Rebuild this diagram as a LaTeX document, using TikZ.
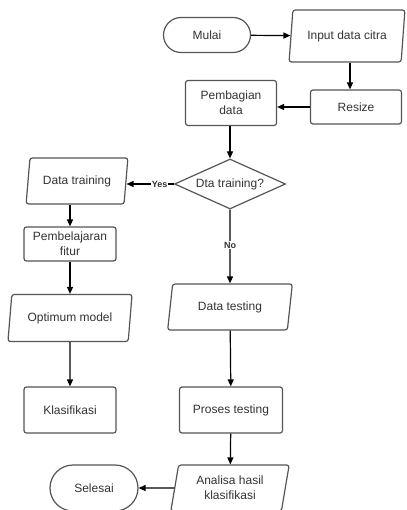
\documentclass[tikz,border=0pt]{standalone}
\usepackage{fontspec}
\setmainfont{Liberation Sans}
\usetikzlibrary{arrows.meta,shapes.geometric,shapes.misc}
\definecolor{ink}{HTML}{333333}
\definecolor{stroke}{HTML}{555555}
\tikzset{flow/.style={-{Triangle[length=7pt,width=6pt]},stroke,line width=1.2pt},
shp/.style={draw=stroke,line width=1.2pt,text=ink,align=center,inner sep=2pt,
 font=\fontsize{12}{15}\selectfont},
term/.style={shp,rounded rectangle,minimum height=35pt},
io/.style={shp,trapezium,trapezium left angle=79,trapezium right angle=101,
 trapezium stretches=true,rounded corners=2.5pt,minimum height=46pt},
proc/.style={shp,rectangle,rounded corners=2.5pt,minimum height=46pt},
dec/.style={shp,diamond,aspect=2.2,inner sep=0pt,minimum width=111pt,minimum height=50pt},
lab/.style={font=\bfseries\fontsize{9}{10}\selectfont,text=ink,fill=white,inner sep=1pt}}
\begin{document}
\begin{tikzpicture}[x=1pt,y=-1pt]
\useasboundingbox (0,0) rectangle (406,510);
\clip (0,0) rectangle (406,510);
\fill[white] (0,0) rectangle (406,510);
% top row
\node[term,minimum width=91pt] (mulai) at (207,35) {Mulai};
\node[io,minimum width=117pt,minimum height=52pt] (input) at (347,36) {Input data citra};
\node[proc,minimum width=91pt,minimum height=34pt] (resize) at (356,107) {Resize};
\node[proc,minimum width=91pt,minimum height=45pt] (bagi) at (231,103) {Pembagian\\data};
\node[dec] (cek) at (230,184) {Dta training?};
% training branch
\node[io,minimum width=102pt] (train) at (77,181) {Data training};
\node[proc,minimum width=92pt,minimum height=34pt] (fitur) at (70,244) {Pembelajaran\\fitur};
\node[io,minimum width=125pt,minimum height=47pt] (model) at (70,318) {Optimum model};
\node[proc,minimum width=92pt] (klas) at (70,410) {Klasifikasi};
% testing branch
\node[io,minimum width=125pt] (test) at (230,307) {Data testing};
\node[proc,minimum width=103pt] (proses) at (231,410) {Proses testing};
\node[io,minimum width=119pt] (analisa) at (230,488) {Analisa hasil\\klasifikasi};
\node[term,minimum width=92pt,minimum height=46pt] (selesai) at (94,488) {Selesai};
% connectors
\draw[flow] (mulai) -- (input);
\draw[flow] (input.south -| 350,0) -- (resize.north -| 350,0);
\draw[flow] (resize.west) -- (resize.west -| bagi.east);
\draw[flow] (bagi.south -| cek.north) -- (cek.north);
\draw[flow] (cek.west) -- node[lab,pos=.3] {Yes} (cek.west -| train.east);
\draw[flow] (train.south -| fitur.north) -- (fitur.north);
\draw[flow] (fitur) -- (model);
\draw[flow] (model) -- (klas);
\draw[flow] (cek.south) -- node[lab,pos=.48] {No} (test.north);
\draw[flow] (test) -- (proses);
\draw[flow] (proses) -- (analisa);
\draw[flow] (analisa.west) -- (selesai.east);
\end{tikzpicture}
\end{document}
